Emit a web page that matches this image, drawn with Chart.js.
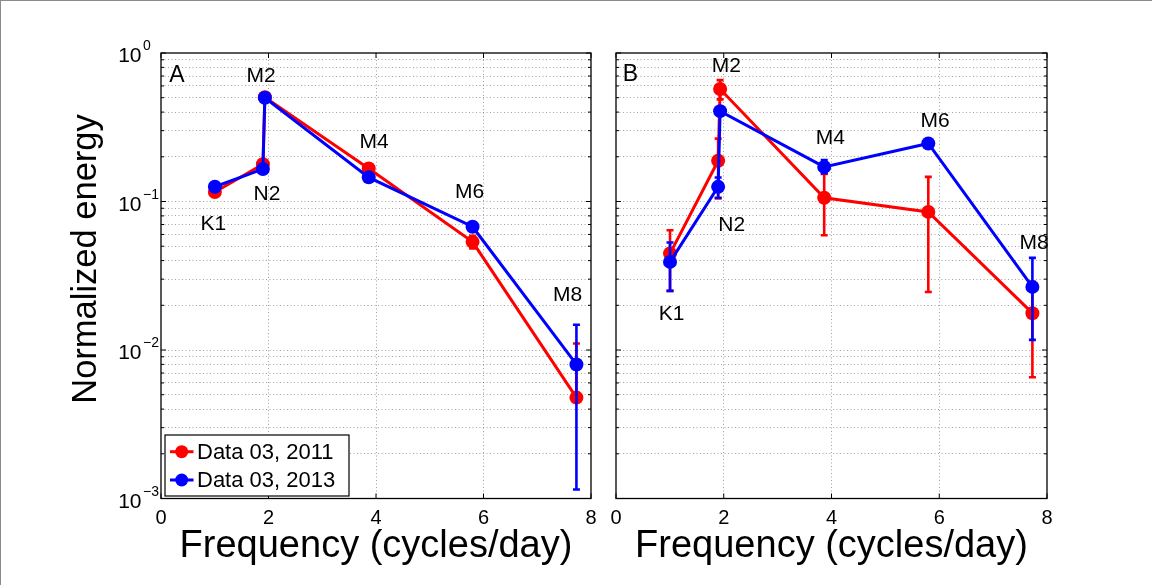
<!DOCTYPE html>
<html>
<head>
<meta charset="utf-8">
<script src="https://cdn.jsdelivr.net/npm/chart.js@4.4.0/dist/chart.umd.min.js"></script>
<style>
html,body{margin:0;padding:0;background:#fff;}
#wrap{position:relative;width:1152px;height:585px;overflow:hidden;background:#fff;}
canvas{position:absolute;left:0;top:0;}
#frame{position:absolute;left:0;top:0;width:1152px;height:585px;box-sizing:border-box;border-top:1px solid #8a8a8a;border-left:1px solid #8a8a8a;pointer-events:none;}
</style>
</head>
<body>
<div id="wrap">
<canvas id="cA" width="1152" height="585"></canvas>
<canvas id="cB" width="1152" height="585"></canvas>
<div id="frame"></div>
</div>
<script>
// ---------------- DATA ----------------
const constituents = ['K1', 'N2', 'M2', 'M4', 'M6', 'M8'];
const frequencies = [1.0027, 1.8960, 1.9323, 3.8645, 5.7968, 7.7290];
const seriesNames = ['Data 03, 2011', 'Data 03, 2013'];

// Panel A
const a2011 = [0.116, 0.178, 0.503, 0.167, 0.0535, 0.00478];
const a2011Low = [0.112, 0.172, 0.490, 0.161, 0.0483, null];
const a2011High = [0.120, 0.184, 0.516, 0.173, 0.0587, 0.01107];
const a2013 = [0.1257, 0.1654, 0.500, 0.1454, 0.0676, 0.00799];
const a2013Low = [0.121, 0.160, 0.487, 0.140, 0.0636, 0.00115];
const a2013High = [0.130, 0.171, 0.513, 0.151, 0.0716, 0.0148];

// Panel B
const b2011 = [0.0446, 0.188, 0.572, 0.106, 0.0851, 0.0177];
const b2011Low = [0.025, 0.105, 0.487, 0.0593, 0.0246, 0.00656];
const b2011High = [0.064, 0.265, 0.657, 0.153, 0.1465, 0.0288];
const b2013 = [0.0392, 0.1255, 0.406, 0.171, 0.246, 0.0266];
const b2013Low = [0.025, 0.106, 0.385, 0.155, 0.236, 0.0117];
const b2013High = [0.053, 0.145, 0.427, 0.190, 0.256, 0.0417];

// Axes
const xTicks = [0, 2, 4, 6, 8];
const yDecades = [0.001, 0.01, 0.1, 1];
const yTickExponents = ['\u22123', '\u22122', '\u22121', '0'];
const xTitle = 'Frequency (cycles/day)';
const yTitle = 'Normalized energy';

// Annotation anchors (data coordinates) for constituent labels
const annotAFreq = [0.973, 1.972, 1.860, 3.963, 5.740, 7.563];
const annotAVal = [0.0699, 0.1127, 0.700, 0.2494, 0.1148, 0.02343];
const annotBFreq = [1.034, 2.148, 2.047, 3.978, 5.921, 7.759];
const annotBVal = [0.01744, 0.06884, 0.820, 0.2663, 0.3481, 0.05248];
const panelLetters = ['A', 'B'];
const letterFreq = [0.298, 0.266];
const letterVal = [0.7055, 0.711];

// ---------------- STYLE ----------------
const FONT = '"Liberation Sans", Arial, Helvetica, sans-serif';
const RED = '#ff0000', BLUE = '#0000ff';
const GRID = 'rgba(0,0,0,0.36)';

const yGrid = [];
for (let d = 0; d < 3; d++) for (let m = 1; m <= 9; m++) yGrid.push(m * yDecades[d]);
yGrid.push(yDecades[3]);

// ---------------- PLUGINS ----------------
const errorPlugin = {
  id: 'errbars',
  afterDatasetDraw(chart, args) {
    const ds = chart.data.datasets[args.index];
    const {ctx, chartArea: ca} = chart;
    const xs = chart.scales.x, ys = chart.scales.y;
    ctx.save();
    ctx.beginPath(); ctx.rect(ca.left, ca.top, ca.right - ca.left, ca.bottom - ca.top); ctx.clip();
    ctx.strokeStyle = ds.borderColor; ctx.lineWidth = 2.6; ctx.lineCap = 'butt';
    ds.data.forEach((pt, i) => {
      const lo = ds.errLow[i], hi = ds.errHigh[i];
      const px = xs.getPixelForValue(pt.x);
      const py = ys.getPixelForValue(pt.y);
      const yl = lo == null ? py : ys.getPixelForValue(lo);
      const yh = hi == null ? py : ys.getPixelForValue(hi);
      ctx.beginPath(); ctx.moveTo(px, yl); ctx.lineTo(px, yh); ctx.stroke();
      ctx.beginPath();
      if (lo != null) { ctx.moveTo(px - 3.5, yl); ctx.lineTo(px + 3.5, yl); }
      if (hi != null) { ctx.moveTo(px - 3.5, yh); ctx.lineTo(px + 3.5, yh); }
      ctx.stroke();
    });
    ctx.restore();
  }
};

const boxPlugin = {
  id: 'box',
  afterDraw(chart) {
    const {ctx, chartArea: ca} = chart;
    const xs = chart.scales.x, ys = chart.scales.y;
    ctx.save();
    ctx.strokeStyle = '#000'; ctx.lineWidth = 1.3;
    ctx.strokeRect(ca.left, ca.top, ca.right - ca.left, ca.bottom - ca.top);
    ctx.lineWidth = 1;
    ctx.beginPath();
    xTicks.forEach(v => {
      const x = xs.getPixelForValue(v);
      ctx.moveTo(x, ca.bottom); ctx.lineTo(x, ca.bottom - 5);
      ctx.moveTo(x, ca.top); ctx.lineTo(x, ca.top + 5);
    });
    yGrid.forEach((v, i) => {
      const y = ys.getPixelForValue(v);
      const len = (i % 9 === 0) ? 5 : 3;
      ctx.moveTo(ca.left, y); ctx.lineTo(ca.left + len, y);
      ctx.moveTo(ca.right, y); ctx.lineTo(ca.right - len, y);
    });
    ctx.stroke();
    ctx.restore();
  }
};

function annotPlugin(texts, freqs, vals, letter, lf, lv) {
  return {
    id: 'annot',
    afterDraw(chart) {
      const {ctx} = chart;
      const xs = chart.scales.x, ys = chart.scales.y;
      ctx.save();
      ctx.fillStyle = '#000';
      ctx.textAlign = 'center'; ctx.textBaseline = 'middle';
      ctx.font = '21px ' + FONT;
      texts.forEach((t, i) => {
        ctx.fillText(t, xs.getPixelForValue(freqs[i]), ys.getPixelForValue(vals[i]));
      });
      ctx.font = '23px ' + FONT;
      ctx.fillText(letter, xs.getPixelForValue(lf), ys.getPixelForValue(lv));
      ctx.restore();
    }
  };
}

const yLabelPlugin = {
  id: 'ylabels',
  afterDraw(chart) {
    const {ctx} = chart;
    const ys = chart.scales.y;
    ctx.save();
    ctx.fillStyle = '#000';
    ctx.textBaseline = 'alphabetic';
    yDecades.forEach((v, i) => {
      const y = ys.getPixelForValue(v);
      ctx.font = '21px ' + FONT;
      ctx.textAlign = 'right';
      ctx.fillText('10', 141.5, y + 9);
      ctx.font = '14px ' + FONT;
      ctx.textAlign = 'left';
      ctx.fillText(yTickExponents[i], 143, y - 3);
    });
    // y-axis title
    ctx.translate(86, 259);
    ctx.rotate(-Math.PI / 2);
    ctx.font = '34.5px ' + FONT;
    ctx.textAlign = 'center';
    ctx.textBaseline = 'middle';
    ctx.fillText(yTitle, 0, 0);
    ctx.restore();
  }
};

const legendPlugin = {
  id: 'mylegend',
  afterDraw(chart) {
    const {ctx} = chart;
    const bx = 165, by = 435, bw = 184, bh = 61;
    ctx.save();
    ctx.fillStyle = '#fff';
    ctx.fillRect(bx, by, bw, bh);
    ctx.strokeStyle = '#000'; ctx.lineWidth = 1.2;
    ctx.strokeRect(bx, by, bw, bh);
    const rows = [451.7, 480];
    chart.data.datasets.forEach((ds, i) => {
      const y = rows[i];
      ctx.strokeStyle = ds.borderColor; ctx.lineWidth = 3;
      ctx.beginPath(); ctx.moveTo(170, y); ctx.lineTo(193.5, y); ctx.stroke();
      ctx.fillStyle = ds.borderColor;
      ctx.beginPath(); ctx.arc(181.7, y, 6.5, 0, Math.PI * 2); ctx.fill();
      ctx.fillStyle = '#000';
      ctx.font = '22px ' + FONT;
      ctx.textAlign = 'left'; ctx.textBaseline = 'middle';
      ctx.fillText(ds.label, 197, y + 1);
    });
    ctx.restore();
  }
};

// ---------------- CHARTS ----------------
function makeChart(id, isLeft, s1, s1Low, s1High, s2, s2Low, s2High, annF, annV, pi) {
  const mk = (label, color, vals, lo, hi, order) => ({
    label: label,
    data: frequencies.map((f, i) => ({x: f, y: vals[i]})),
    borderColor: color, backgroundColor: color,
    pointBackgroundColor: color, pointBorderColor: color,
    borderWidth: 3, pointRadius: 7, pointHoverRadius: 7, pointBorderWidth: 0,
    tension: 0, order: order, errLow: lo, errHigh: hi, clip: false
  });
  return new Chart(document.getElementById(id), {
    type: 'line',
    data: {
      datasets: [
        mk(seriesNames[0], RED, s1, s1Low, s1High, 1),
        mk(seriesNames[1], BLUE, s2, s2Low, s2High, 0)
      ]
    },
    options: {
      responsive: false, animation: false, devicePixelRatio: 1, events: [],
      layout: {
        autoPadding: false,
        padding: isLeft ? {left: 0, right: 561, top: 53, bottom: 0}
                        : {left: 616, right: 105, top: 53, bottom: 0}
      },
      plugins: {legend: {display: false}, tooltip: {enabled: false}},
      scales: {
        x: {
          type: 'linear', min: 0, max: 8,
          afterBuildTicks: s => { s.ticks = xTicks.map(v => ({value: v})); },
          afterFit: s => { s.height = 86.5; },
          ticks: {font: {family: FONT, size: 20}, color: '#000', padding: 8, maxRotation: 0, autoSkip: false},
          grid: {
            drawTicks: false, lineWidth: 1,
            color: c => (c.tick && (c.tick.value === 0 || c.tick.value === 8)) ? 'rgba(0,0,0,0)' : GRID
          },
          border: {display: false, dash: [1, 2.5]},
          title: {display: true, text: xTitle, color: '#000',
                  font: {family: FONT, size: 38, lineHeight: 1.2}, padding: {top: 0, bottom: 16}}
        },
        y: {
          type: 'logarithmic', min: 0.001, max: 1,
          afterBuildTicks: s => { s.ticks = yGrid.map((v, i) => ({value: v, major: i % 9 === 0})); },
          afterFit: s => { s.width = isLeft ? 161 : 0; },
          ticks: {display: false},
          grid: {
            drawTicks: false, lineWidth: 1,
            color: c => (c.tick && (c.tick.value === 1 || c.tick.value === 0.001)) ? 'rgba(0,0,0,0)' : GRID
          },
          border: {display: false, dash: [1, 2.5]},
          title: {display: false}
        }
      }
    },
    plugins: [boxPlugin, errorPlugin,
      annotPlugin(constituents, annF, annV, panelLetters[pi], letterFreq[pi], letterVal[pi])]
      .concat(isLeft ? [yLabelPlugin, legendPlugin] : [])
  });
}

makeChart('cA', true, a2011, a2011Low, a2011High, a2013, a2013Low, a2013High, annotAFreq, annotAVal, 0);
makeChart('cB', false, b2011, b2011Low, b2011High, b2013, b2013Low, b2013High, annotBFreq, annotBVal, 1);
</script>
</body>
</html>
